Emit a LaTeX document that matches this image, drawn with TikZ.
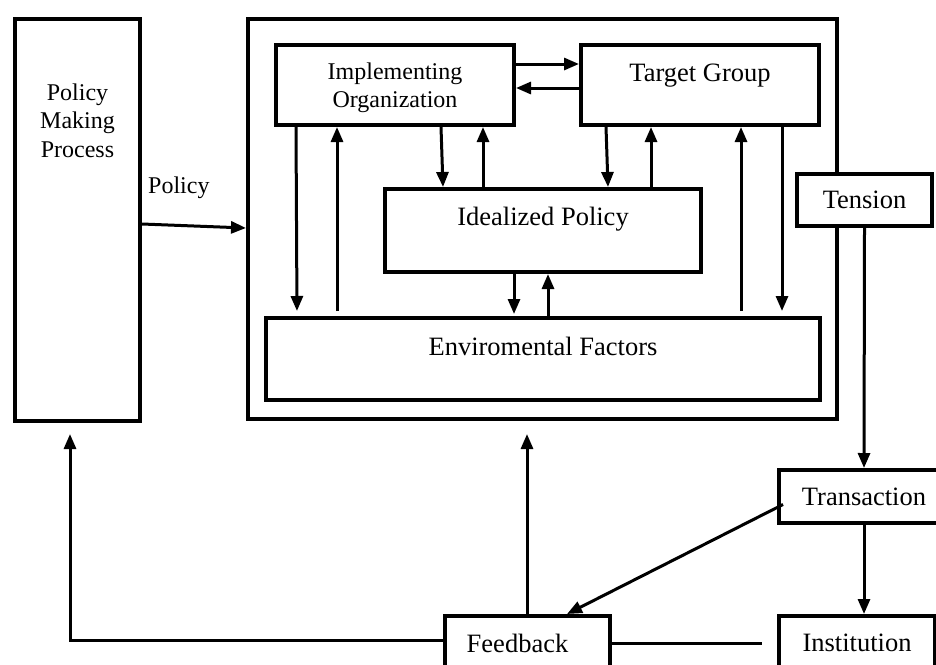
\documentclass[tikz,border=0pt]{standalone}
\usepackage{fontspec}
\setmainfont{Liberation Serif}
\usetikzlibrary{arrows.meta,calc}
\newcommand{\bigf}{\fontsize{26.5}{30}\selectfont}
\newcommand{\smallf}{\fontsize{24}{28.5}\selectfont}
\newcommand{\toptext}[4]{\parbox[c][#2][t]{#1}{\centering\vspace*{#3}#4\par}}
\begin{document}
\begin{tikzpicture}[x=1pt,y=-1pt,
  box/.style={draw,line width=4pt,inner sep=0pt,anchor=north west,fill=white},
  arr/.style={line width=3pt,-{Triangle[length=15pt,width=12pt]}},
  plain/.style={line width=3pt}]
\useasboundingbox (0,0) rectangle (936,664);
% outer frame
\node[box,fill=none,minimum width=589pt,minimum height=400pt] (outer) at (246,17) {};
% left box
\node[box] (pmp) at (13,17) {\smallf\toptext{125pt}{402pt}{64.6pt}{Policy\\Making\\Process}};
\node[anchor=base west,inner sep=0pt] (pol) at (148,193) {\smallf Policy};
% inner boxes
\node[box] (impl) at (274,43) {\smallf\baselineskip=28pt\toptext{238pt}{80pt}{17.6pt}{Implementing\\Organization}};
\node[box] (target) at (579,43) {\bigf\toptext{238pt}{80pt}{18.9pt}{Target Group}};
\node[box] (ideal) at (383,187) {\bigf\toptext{316pt}{83pt}{17.9pt}{Idealized Policy}};
\node[box] (env) at (264,316) {\bigf\toptext{554pt}{82pt}{18.9pt}{Enviromental Factors}};
% right side boxes
\node[box,minimum width=135pt,minimum height=52pt] (tension) at (795,172) {\bigf Tension};
\node[box,minimum width=170pt,minimum height=53pt] (trans) at (777,468) {\bigf Transaction};
\node[box,minimum width=156pt,minimum height=54pt] (inst) at (777,614) {\bigf Institution};
\node[box,minimum width=165pt,minimum height=54pt] (fb) at (443,614) {\bigf Feedback\hspace*{20pt}};
% arrows between top boxes
\draw[arr] ([yshift=-21pt]impl.north east) -- ([yshift=-21pt]target.north west);
\draw[arr] ([yshift=-45pt]target.north west) -- ([yshift=-45pt]impl.north east);
% implementing organization <-> env / ideal
\draw[arr,shorten >=5pt] ([xshift=22pt]impl.south west) -- ([xshift=33pt]env.north west);
\draw[arr,shorten <=5pt] ([xshift=73pt]env.north west) -- ([xshift=63pt]impl.south west);
\draw[arr] ([xshift=167pt]impl.south west) -- ([xshift=60pt]ideal.north west);
\draw[arr] ([xshift=100pt]ideal.north west) -- ([xshift=209pt]impl.south west);
% target group <-> ideal / env
\draw[arr] ([xshift=27pt]target.south west) -- ([xshift=225pt]ideal.north west);
\draw[arr] ([xshift=268pt]ideal.north west) -- ([xshift=72pt]target.south west);
\draw[arr,shorten <=5pt] ([xshift=477pt]env.north west) -- ([xshift=162pt]target.south west);
\draw[arr,shorten >=5pt] ([xshift=203pt]target.south west) -- ([xshift=518pt]env.north west);
% ideal <-> env
\draw[arr,shorten >=2pt] ([xshift=131pt]ideal.south west) -- ([xshift=250pt]env.north west);
\draw[arr] ([xshift=284pt]env.north west) -- ([xshift=165pt]ideal.south west);
% policy arrow
\draw[arr] ([yshift=-207pt]pmp.north east) -- ([yshift=-211pt]outer.north west);
% right chain
\draw[arr] (tension.south) -- (trans.north);
\draw[arr] (trans.south) -- (trans.south |- inst.north);
\draw[arr] ([xshift=6pt,yshift=-8pt]trans.west) -- ([xshift=124pt]fb.north west);
% feedback
\draw[arr] ([yshift=3pt]fb.west) -| ([xshift=57pt,yshift=-11pt]pmp.south west);
\draw[arr] ([xshift=84pt]fb.north west) -- ([xshift=281pt,yshift=-13pt]outer.south west);
\draw[plain] (fb.east) -- ([xshift=-15pt]inst.west);
\end{tikzpicture}
\end{document}
